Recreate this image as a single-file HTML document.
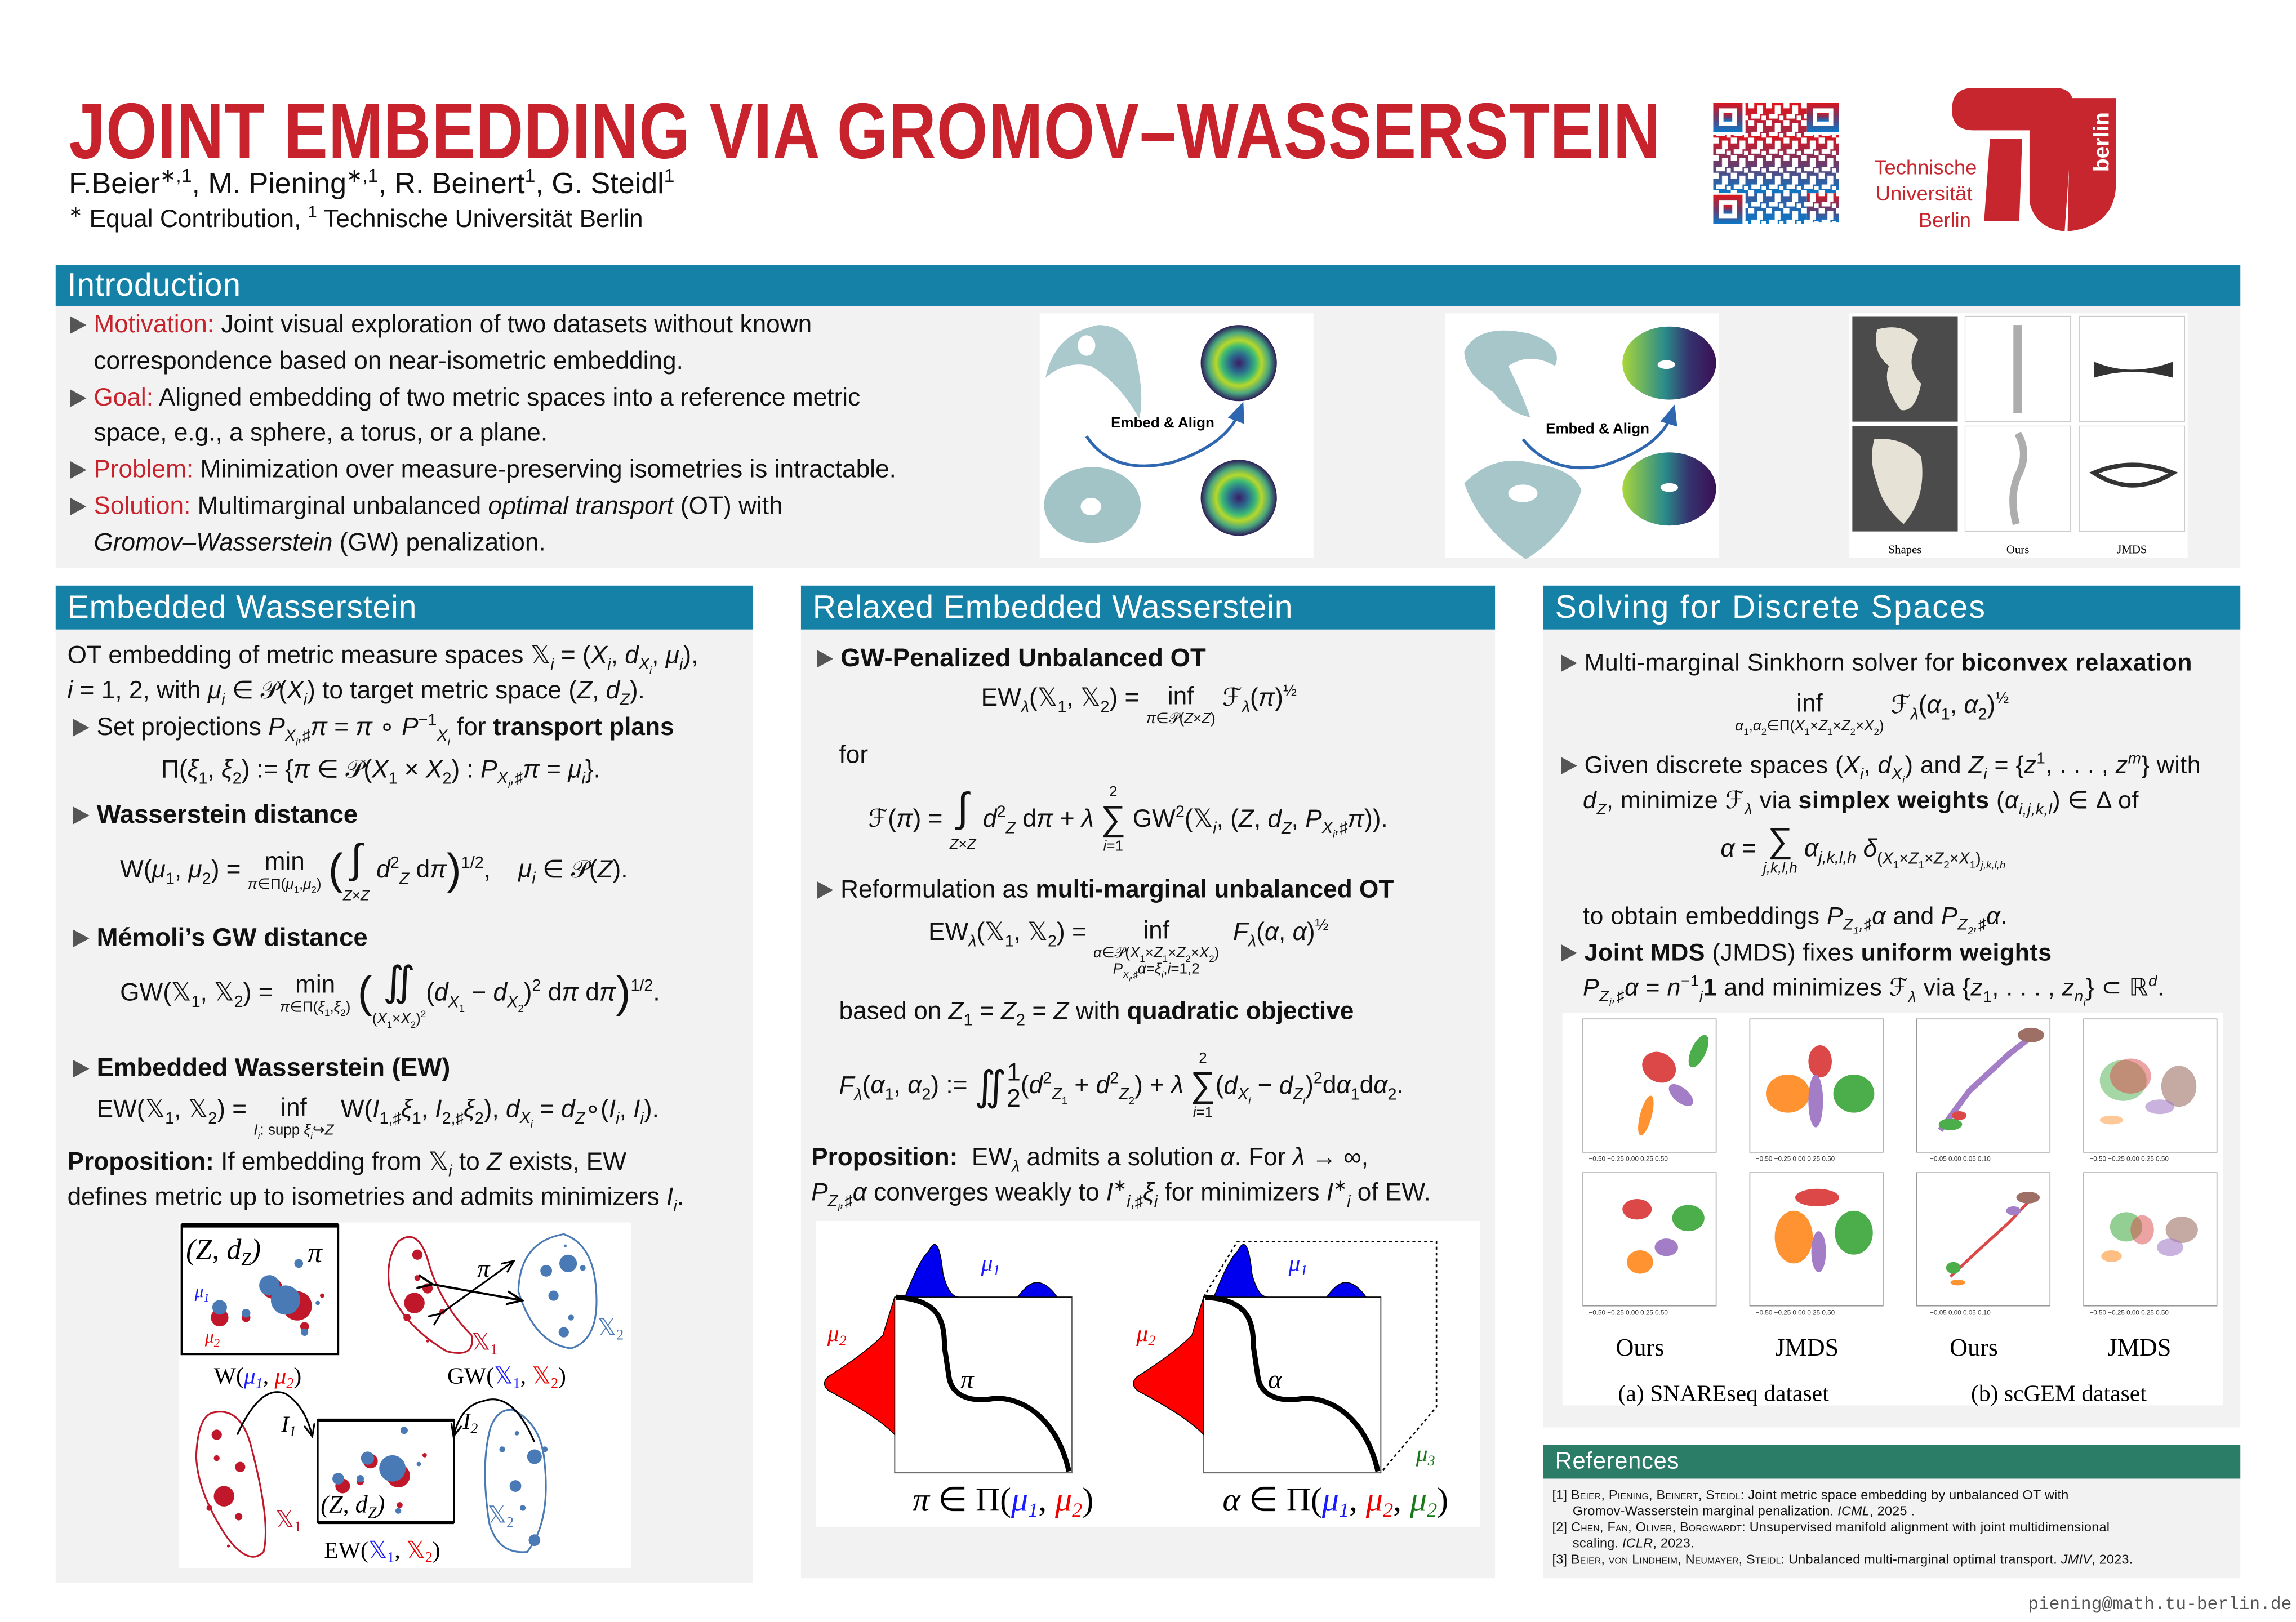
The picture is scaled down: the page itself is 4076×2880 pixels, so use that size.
<!DOCTYPE html>
<html><head><meta charset="utf-8">
<style>
html,body{margin:0;padding:0;background:#fff;}
body{width:4076px;height:2880px;overflow:hidden;position:relative;}
#s{position:absolute;left:0;top:0;width:1568px;height:1108px;transform:scale(2.5995);transform-origin:0 0;font-family:"Liberation Sans","DejaVu Sans",sans-serif;color:#111;}
.a{position:absolute;white-space:nowrap;}
.t{position:absolute;white-space:nowrap;font-size:17px;letter-spacing:0;line-height:20px;}
.hd{position:absolute;background:#1581a7;color:#fff;font-size:22px;line-height:30px;padding-left:8px;box-sizing:border-box;letter-spacing:0.3px;}
.bg{position:absolute;background:#f2f2f2;}
.r{color:#c8232c;}
.bu{display:inline-block;width:0;height:0;border-top:6px solid transparent;border-bottom:6px solid transparent;border-left:11px solid #555;margin-right:5px;vertical-align:-1px;}
i{font-style:italic;}
sub,sup{font-size:65%;line-height:0;}
.op{display:inline-block;text-align:center;vertical-align:middle;line-height:1.1;}
.op small{display:block;font-size:10px;}
</style></head><body><div id="s">

<!-- Title -->
<div class="a" style="left:47px;top:62px;font-size:54px;line-height:56px;font-weight:bold;color:#c8232c;transform:scaleX(0.83);transform-origin:0 0;letter-spacing:0.5px;">JOINT EMBEDDING VIA GROMOV–WASSERSTEIN</div>
<div class="a" style="left:47px;top:114px;font-size:20px;line-height:24px;">F.Beier<sup>∗,1</sup>, M. Piening<sup>∗,1</sup>, R. Beinert<sup>1</sup>, G. Steidl<sup>1</sup></div>
<div class="a" style="left:47px;top:140px;font-size:17px;line-height:20px;"><sup>∗</sup> Equal Contribution, <sup>1</sup> Technische Universität Berlin</div>

<!-- QR -->
<svg class="a" style="left:1170px;top:70px" width="86" height="83" viewBox="0 0 86 83">
<defs><linearGradient id="qg" x1="0" y1="0" x2="0" y2="1"><stop offset="0" stop-color="#e0141b"/><stop offset="0.5" stop-color="#6c3a6a"/><stop offset="1" stop-color="#0a78c8"/></linearGradient>
<pattern id="qp" width="12" height="12" patternUnits="userSpaceOnUse"><rect x="0" y="0" width="4" height="4" fill="#000"/><rect x="6" y="2" width="4" height="6" fill="#000"/><rect x="2" y="8" width="6" height="3" fill="#000"/><rect x="9" y="9" width="3" height="3" fill="#000"/></pattern>
<mask id="qm"><rect width="86" height="83" fill="#fff"/><rect x="0" y="0" width="86" height="83" fill="url(#qp)"/></mask></defs>
<g fill="url(#qg)">
<rect x="22" y="0" width="42" height="83" mask="url(#qm)"/>
<rect x="0" y="22" width="86" height="40" mask="url(#qm)"/>
<path d="M0 0h20v20h-20zM4 4v12h12v-12z" fill-rule="evenodd"/><rect x="7" y="7" width="6" height="6"/>
<path d="M64 0h22v20h-22zM68 4v12h14v-12z" fill-rule="evenodd"/><rect x="71" y="7" width="8" height="6"/>
<path d="M0 63h20v20h-20zM4 67v12h12v-12z" fill-rule="evenodd"/><rect x="7" y="70" width="6" height="6"/>
<rect x="64" y="62" width="22" height="20" mask="url(#qm)"/>
</g></svg>

<!-- TU logo -->
<svg class="a" style="left:1270px;top:55px" width="185" height="110" viewBox="1270 55 185 110">
<path fill="#c8262e" d="M1348,60 L1403,60 Q1416,60 1416,72 L1410,158 Q1390,156 1386,138 L1386,89 L1348,89 Q1333,89 1333,75 Q1333,60 1348,60 Z"/>
<path fill="#c8262e" d="M1359,95 L1381,95 L1379,151 L1355,151 Z"/>
<path fill="#c8262e" d="M1414,67 L1445,67 L1445,128 Q1443,155 1412,158 Z"/>
<text x="1440" y="97" transform="rotate(-90 1440 97)" fill="#fff" font-family="Liberation Sans, sans-serif" font-size="15" font-weight="bold" text-anchor="middle">berlin</text>
<g fill="#c8262e" font-family="Liberation Sans, sans-serif" font-size="14" text-anchor="end"><text x="1350" y="119">Technische</text><text x="1347" y="137">Universität</text><text x="1346" y="155">Berlin</text></g>
</svg>

<!-- Intro -->
<div class="hd" style="left:38px;top:181px;width:1492px;height:28px;line-height:28px;">Introduction</div>
<div class="bg" style="left:38px;top:209px;width:1492px;height:179px;"></div>
<div class="t" style="left:48px;top:212px;"><span class="bu"></span><span class="r">Motivation:</span> Joint visual exploration of two datasets without known</div>
<div class="t" style="left:64px;top:237px;">correspondence based on near-isometric embedding.</div>
<div class="t" style="left:48px;top:262px;"><span class="bu"></span><span class="r">Goal:</span> Aligned embedding of two metric spaces into a reference metric</div>
<div class="t" style="left:64px;top:286px;">space, e.g., a sphere, a torus, or a plane.</div>
<div class="t" style="left:48px;top:311px;"><span class="bu"></span><span class="r">Problem:</span> Minimization over measure-preserving isometries is intractable.</div>
<div class="t" style="left:48px;top:336px;"><span class="bu"></span><span class="r">Solution:</span> Multimarginal unbalanced <i>optimal transport</i> (OT) with</div>
<div class="t" style="left:64px;top:361px;"><i>Gromov–Wasserstein</i> (GW) penalization.</div>

<svg class="a" style="left:0;top:0" width="1568" height="400">
<defs>
<radialGradient id="vir" cx="0.5" cy="0.5" r="0.5"><stop offset="0" stop-color="#3b1c6a"/><stop offset="0.25" stop-color="#2b6f8d"/><stop offset="0.45" stop-color="#3dbb74"/><stop offset="0.6" stop-color="#b8d82a"/><stop offset="0.8" stop-color="#4aa77f"/><stop offset="1" stop-color="#2b1b57"/></radialGradient>
<linearGradient id="vir2" x1="0" y1="0" x2="1" y2="0"><stop offset="0" stop-color="#a9d63a"/><stop offset="0.45" stop-color="#2a8c8a"/><stop offset="0.7" stop-color="#35356f"/><stop offset="1" stop-color="#3a0f55"/></linearGradient>
<marker id="ab" markerWidth="8" markerHeight="8" refX="4" refY="4" orient="auto"><path d="M0,1 L7,4 L0,7z" fill="#2f66b0"/></marker>
</defs>
<rect x="710" y="214" width="187" height="167" fill="#fff"/>
<path d="M714,258 Q720,228 750,222 Q768,222 775,240 Q782,270 778,286 Q765,262 745,250 Q728,246 714,258Z" fill="#a9c9cc"/>
<ellipse cx="742" cy="236" rx="6" ry="7" fill="#fff"/>
<circle cx="846" cy="248" r="26" fill="url(#vir)"/>
<ellipse cx="746" cy="345" rx="33" ry="26" fill="#a2c4c7"/><ellipse cx="745" cy="346" rx="7" ry="6" fill="#fff"/>
<circle cx="846" cy="340" r="26" fill="url(#vir)"/>
<path d="M742,298 Q760,325 800,316 Q838,304 847,280" stroke="#2f66b0" stroke-width="2" fill="none" marker-end="url(#ab)"/>
<text x="794" y="292" font-family="Liberation Sans, sans-serif" font-size="10" font-weight="bold" text-anchor="middle">Embed &amp; Align</text>
<rect x="987" y="214" width="187" height="167" fill="#fff"/>
<path d="M1000,240 Q1010,220 1045,228 Q1068,236 1062,250 Q1045,240 1030,250 Q1040,270 1045,285 Q1030,282 1020,268 Q1000,255 1000,240Z" fill="#a6c6c9"/>
<ellipse cx="1140" cy="248" rx="32" ry="25" fill="url(#vir2)"/><ellipse cx="1138" cy="249" rx="6" ry="3" fill="#fff"/>
<path d="M1000,330 Q1020,310 1045,316 Q1075,320 1080,335 Q1070,365 1042,382 Q1010,360 1000,330Z" fill="#a6c6c9"/><ellipse cx="1040" cy="337" rx="10" ry="6" fill="#fff"/>
<ellipse cx="1140" cy="334" rx="32" ry="25" fill="url(#vir2)"/><ellipse cx="1140" cy="333" rx="6" ry="3" fill="#fff"/>
<path d="M1040,300 Q1060,325 1095,318 Q1135,305 1142,282" stroke="#2f66b0" stroke-width="2" fill="none" marker-end="url(#ab)"/>
<text x="1091" y="296" font-family="Liberation Sans, sans-serif" font-size="10" font-weight="bold" text-anchor="middle">Embed &amp; Align</text>
<rect x="1263" y="214" width="231" height="167" fill="#fff"/>
<rect x="1265" y="216" width="72" height="72" fill="#4b4b4b"/><path d="M1282,225 Q1300,220 1310,232 Q1300,250 1312,262 Q1308,282 1298,280 Q1285,262 1290,250 Q1278,240 1282,225Z" fill="#e6e2d6"/>
<rect x="1265" y="291" width="72" height="72" fill="#4b4b4b"/><path d="M1280,300 Q1300,298 1312,312 Q1316,340 1300,358 Q1285,345 1282,330 Q1276,315 1280,300Z" fill="#e6e2d6"/>
<rect x="1342" y="216" width="72" height="72" fill="#fff" stroke="#ccc" stroke-width="0.5"/><rect x="1375" y="222" width="6" height="60" fill="#777" opacity="0.6"/>
<rect x="1342" y="291" width="72" height="72" fill="#fff" stroke="#ccc" stroke-width="0.5"/><path d="M1378,296 Q1386,310 1378,325 Q1372,340 1377,358" stroke="#777" stroke-width="5" fill="none" opacity="0.6"/>
<rect x="1420" y="216" width="72" height="72" fill="#fff" stroke="#ccc" stroke-width="0.5"/><path d="M1430,247 Q1456,258 1484,247 L1484,258 Q1456,250 1430,258Z" fill="#333"/>
<rect x="1420" y="291" width="72" height="72" fill="#fff" stroke="#ccc" stroke-width="0.5"/><path d="M1430,323 Q1456,312 1484,323 Q1456,340 1430,323Z" fill="none" stroke="#333" stroke-width="3"/>
<g font-family="Liberation Serif, serif" font-size="8" text-anchor="middle"><text x="1301" y="378">Shapes</text><text x="1378" y="378">Ours</text><text x="1456" y="378">JMDS</text></g>
</svg>

<!-- Column 1 -->
<div class="hd" style="left:38px;top:400px;width:476px;height:30px;">Embedded Wasserstein</div>
<div class="bg" style="left:38px;top:430px;width:476px;height:651px;"></div>
<div class="t" style="left:46px;top:438px;">OT embedding of metric measure spaces 𝕏<sub><i>i</i></sub> = (<i>X<sub>i</sub></i>, <i>d<sub>X<sub>i</sub></sub></i>, <i>μ<sub>i</sub></i>),</div>
<div class="t" style="left:46px;top:462px;"><i>i</i> = 1, 2, with <i>μ<sub>i</sub></i> ∈ 𝒫(<i>X<sub>i</sub></i>) to target metric space (<i>Z</i>, <i>d<sub>Z</sub></i>).</div>
<div class="t" style="left:50px;top:487px;"><span class="bu"></span>Set projections <i>P<sub>X<sub>i</sub>,♯</sub>π</i> = <i>π</i> ∘ <i>P</i><sup>−1</sup><sub><i>X<sub>i</sub></i></sub> for <b>transport plans</b></div>
<div class="t" style="left:110px;top:516px;">Π(<i>ξ</i><sub>1</sub>, <i>ξ</i><sub>2</sub>) := {<i>π</i> ∈ 𝒫(<i>X</i><sub>1</sub> × <i>X</i><sub>2</sub>) : <i>P<sub>X<sub>i</sub>,♯</sub>π</i> = <i>μ<sub>i</sub></i>}.</div>
<div class="t" style="left:50px;top:546px;font-size:17.5px;"><span class="bu"></span><b>Wasserstein distance</b></div>
<div class="t" style="left:82px;top:572px;line-height:22px;">W(<i>μ</i><sub>1</sub>, <i>μ</i><sub>2</sub>) = <span class="op">min<small><i>π</i>∈Π(<i>μ</i><sub>1</sub>,<i>μ</i><sub>2</sub>)</small></span> <span style="font-size:30px;vertical-align:middle">(</span><span class="op"><span style="font-size:28px">∫</span><small style="margin-top:4px"><i>Z</i>×<i>Z</i></small></span> <i>d</i><sup>2</sup><sub><i>Z</i></sub> d<i>π</i><span style="font-size:30px;vertical-align:middle">)</span><sup>1/2</sup>, &nbsp;&nbsp; <i>μ<sub>i</sub></i> ∈ 𝒫(<i>Z</i>).</div>
<div class="t" style="left:50px;top:630px;font-size:17.5px;"><span class="bu"></span><b>Mémoli’s GW distance</b></div>
<div class="t" style="left:82px;top:656px;line-height:22px;">GW(𝕏<sub>1</sub>, 𝕏<sub>2</sub>) = <span class="op">min<small><i>π</i>∈Π(<i>ξ</i><sub>1</sub>,<i>ξ</i><sub>2</sub>)</small></span> <span style="font-size:30px;vertical-align:middle">(</span><span class="op"><span style="font-size:28px">∬</span><small style="margin-top:4px">(<i>X</i><sub>1</sub>×<i>X</i><sub>2</sub>)<sup>2</sup></small></span>(<i>d</i><sub><i>X</i><sub>1</sub></sub> − <i>d</i><sub><i>X</i><sub>2</sub></sub>)<sup>2</sup> d<i>π</i> d<i>π</i><span style="font-size:30px;vertical-align:middle">)</span><sup>1/2</sup>.</div>
<div class="t" style="left:50px;top:719px;font-size:17.5px;"><span class="bu"></span><b>Embedded Wasserstein (EW)</b></div>
<div class="t" style="left:66px;top:748px;line-height:20px;">EW(𝕏<sub>1</sub>, 𝕏<sub>2</sub>) = <span class="op" style="vertical-align:top">inf<small><i>I<sub>i</sub></i>: supp <i>ξ<sub>i</sub></i>↪<i>Z</i></small></span> W(<i>I</i><sub>1,♯</sub><i>ξ</i><sub>1</sub>, <i>I</i><sub>2,♯</sub><i>ξ</i><sub>2</sub>), <i>d<sub>X<sub>i</sub></sub></i> = <i>d<sub>Z</sub></i>∘(<i>I<sub>i</sub></i>, <i>I<sub>i</sub></i>).</div>
<div class="t" style="left:46px;top:784px;"><b>Proposition:</b> If embedding from 𝕏<sub><i>i</i></sub> to <i>Z</i> exists, EW</div>
<div class="t" style="left:46px;top:808px;">defines metric up to isometries and admits minimizers <i>I<sub>i</sub></i>.</div>

<svg class="a" style="left:0;top:0" width="1568" height="1108">
<defs><marker id="ak" markerWidth="8" markerHeight="8" refX="6" refY="4" orient="auto"><path d="M0,1 L7,4 L0,7" fill="none" stroke="#000" stroke-width="1"/></marker></defs>
<rect x="122" y="835" width="309" height="236" fill="#fff"/>
<rect x="124" y="837" width="107" height="88" fill="none" stroke="#000" stroke-width="1.3"/><line x1="124" y1="837" x2="231" y2="837" stroke="#000" stroke-width="3"/>
<text x="127" y="860" font-family="Liberation Serif, serif" font-size="20" font-style="italic">(Z, d<tspan font-size="12" dy="4">Z</tspan><tspan dy="-4">)</tspan></text>
<text x="210" y="862" font-family="Liberation Serif, serif" font-size="20" font-style="italic">π</text>
<g fill="#c0182a"><circle cx="186" cy="880" r="7"/><circle cx="203" cy="892" r="10"/><circle cx="150" cy="900" r="6"/><circle cx="168" cy="900" r="3"/><circle cx="208" cy="906" r="3"/><circle cx="220" cy="885" r="1.5"/></g>
<g fill="#4a7ab5"><circle cx="184" cy="878" r="7"/><circle cx="195" cy="888" r="10"/><circle cx="150" cy="893" r="5"/><circle cx="168" cy="897" r="3"/><circle cx="208" cy="910" r="2.5"/><circle cx="204" cy="863" r="3"/><circle cx="217" cy="890" r="1.5"/></g>
<text x="133" y="886" fill="#1a1aff" font-family="Liberation Serif, serif" font-size="12" font-style="italic">μ<tspan font-size="8" dy="3">1</tspan></text>
<text x="140" y="917" fill="#e00" font-family="Liberation Serif, serif" font-size="12" font-style="italic">μ<tspan font-size="8" dy="3">2</tspan></text>
<path d="M272,848 Q285,838 292,860 Q300,890 322,912 Q325,928 305,923 Q275,905 266,880 Q263,860 272,848Z" fill="none" stroke="#c0182a" stroke-width="1.2"/>
<g fill="#c0182a"><circle cx="285" cy="857" r="3.5"/><circle cx="285" cy="873" r="2"/><circle cx="283" cy="890" r="7"/><circle cx="292" cy="880" r="3.5"/><circle cx="278" cy="900" r="2.5"/><circle cx="302" cy="896" r="2"/><circle cx="292" cy="916" r="1"/></g>
<path d="M385,843 Q405,850 407,880 Q410,915 390,921 Q365,918 354,882 Q355,848 385,843Z" fill="none" stroke="#4a7ab5" stroke-width="1.2"/>
<g fill="#4a7ab5"><circle cx="373" cy="868" r="4"/><circle cx="388" cy="863" r="6"/><circle cx="398" cy="866" r="2"/><circle cx="378" cy="885" r="3.5"/><circle cx="390" cy="900" r="2"/><circle cx="385" cy="910" r="3.5"/><circle cx="386" cy="851" r="1"/></g>
<line x1="294" y1="877" x2="355" y2="888" stroke="#000" stroke-width="1.5" marker-end="url(#ak)" marker-start="url(#ak)"/>
<line x1="300" y1="898" x2="350" y2="862" stroke="#000" stroke-width="1.2" marker-end="url(#ak)" marker-start="url(#ak)"/>
<text x="326" y="872" font-family="Liberation Serif, serif" font-size="17" font-style="italic">π</text>
<text x="322" y="922" fill="#c0182a" font-family="Liberation Serif, serif" font-size="16">𝕏<tspan font-size="10" dy="3">1</tspan></text>
<text x="408" y="912" fill="#4a7ab5" font-family="Liberation Serif, serif" font-size="16">𝕏<tspan font-size="10" dy="3">2</tspan></text>
<g font-family="Liberation Serif, serif" font-size="16" text-anchor="middle"><text x="176" y="945">W(<tspan fill="#1a1aff" font-style="italic">μ<tspan font-size="10" dy="3">1</tspan></tspan><tspan dy="-3">, </tspan><tspan fill="#e00" font-style="italic">μ<tspan font-size="10" dy="3">2</tspan></tspan><tspan dy="-3">)</tspan></text>
<text x="346" y="945">GW(<tspan fill="#1a1aff">𝕏<tspan font-size="10" dy="3">1</tspan></tspan><tspan dy="-3">, </tspan><tspan fill="#e00">𝕏<tspan font-size="10" dy="3">2</tspan></tspan><tspan dy="-3">)</tspan></text>
<text x="261" y="1064">EW(<tspan fill="#1a1aff">𝕏<tspan font-size="10" dy="3">1</tspan></tspan><tspan dy="-3">, </tspan><tspan fill="#e00">𝕏<tspan font-size="10" dy="3">2</tspan></tspan><tspan dy="-3">)</tspan></text></g>
<path d="M145,965 Q165,960 172,990 Q185,1040 180,1060 Q170,1070 155,1050 Q135,1020 134,995 Q135,968 145,965Z" fill="none" stroke="#c0182a" stroke-width="1.2"/>
<g fill="#c0182a"><circle cx="148" cy="980" r="3.5"/><circle cx="148" cy="996" r="2"/><circle cx="164" cy="1002" r="3.5"/><circle cx="153" cy="1022" r="7"/><circle cx="163" cy="1036" r="2.5"/><circle cx="143" cy="1030" r="2"/><circle cx="156" cy="1056" r="1"/></g>
<rect x="217" y="970" width="93" height="70" fill="none" stroke="#000" stroke-width="1.2"/><line x1="217" y1="970" x2="310" y2="970" stroke="#000" stroke-width="2"/><line x1="217" y1="1040" x2="310" y2="1040" stroke="#000" stroke-width="2"/>
<g fill="#c0182a"><circle cx="253" cy="998" r="5"/><circle cx="272" cy="1008" r="8"/><circle cx="234" cy="1015" r="5"/><circle cx="246" cy="1012" r="2.5"/><circle cx="290" cy="994" r="1.5"/><circle cx="273" cy="1028" r="2"/></g>
<g fill="#4a7ab5"><circle cx="251" cy="996" r="4.5"/><circle cx="268" cy="1003" r="9"/><circle cx="231" cy="1010" r="4"/><circle cx="246" cy="1010" r="2.5"/><circle cx="276" cy="977" r="2.5"/><circle cx="286" cy="1000" r="1.5"/><circle cx="272" cy="1032" r="2"/></g>
<text x="219" y="1033" font-family="Liberation Serif, serif" font-size="17" font-style="italic">(Z, d<tspan font-size="11" dy="4">Z</tspan><tspan dy="-4">)</tspan></text>
<path d="M350,963 Q370,972 372,1000 Q376,1040 360,1060 Q340,1062 334,1040 Q328,1000 335,975 Q340,962 350,963Z" fill="none" stroke="#4a7ab5" stroke-width="1.2"/>
<g fill="#4a7ab5"><circle cx="353" cy="979" r="1.5"/><circle cx="343" cy="990" r="2"/><circle cx="365" cy="995" r="5"/><circle cx="372" cy="990" r="2"/><circle cx="352" cy="1015" r="4"/><circle cx="357" cy="1030" r="2"/><circle cx="365" cy="1052" r="4"/></g>
<path d="M162,980 Q178,945 195,952 Q208,960 213,980" fill="none" stroke="#000" stroke-width="1.2" marker-end="url(#ak)"/>
<path d="M365,985 Q350,950 330,957 Q315,960 310,980" fill="none" stroke="#000" stroke-width="1.2" marker-end="url(#ak)"/>
<text x="192" y="978" font-family="Liberation Serif, serif" font-size="16" font-style="italic">I<tspan font-size="10" dy="3">1</tspan></text>
<text x="316" y="976" font-family="Liberation Serif, serif" font-size="16" font-style="italic">I<tspan font-size="10" dy="3">2</tspan></text>
<text x="188" y="1043" fill="#c0182a" font-family="Liberation Serif, serif" font-size="16">𝕏<tspan font-size="10" dy="3">1</tspan></text>
<text x="333" y="1040" fill="#4a7ab5" font-family="Liberation Serif, serif" font-size="16">𝕏<tspan font-size="10" dy="3">2</tspan></text>
</svg>

<!-- Column 2 -->
<div class="hd" style="left:547px;top:400px;width:474px;height:30px;">Relaxed Embedded Wasserstein</div>
<div class="bg" style="left:547px;top:430px;width:474px;height:648px;"></div>
<div class="t" style="left:558px;top:439px;font-size:17.5px;"><span class="bu"></span><b>GW-Penalized Unbalanced OT</b></div>
<div class="t" style="left:670px;top:467px;line-height:20px;">EW<sub><i>λ</i></sub>(𝕏<sub>1</sub>, 𝕏<sub>2</sub>) = <span class="op" style="vertical-align:top">inf<small><i>π</i>∈𝒫(<i>Z</i>×<i>Z</i>)</small></span> ℱ<sub><i>λ</i></sub>(<i>π</i>)<sup>½</sup></div>
<div class="t" style="left:573px;top:506px;">for</div>
<div class="t" style="left:593px;top:536px;line-height:22px;">ℱ(<i>π</i>) = <span class="op"><span style="font-size:28px">∫</span><small style="margin-top:4px"><i>Z</i>×<i>Z</i></small></span> <i>d</i><sup>2</sup><sub><i>Z</i></sub> d<i>π</i> + <i>λ</i> <span class="op"><small>2</small><span style="font-size:24px">∑</span><small><i>i</i>=1</small></span> GW<sup>2</sup>(𝕏<sub><i>i</i></sub>, (<i>Z</i>, <i>d<sub>Z</sub></i>, <i>P<sub>X<sub>i</sub>,♯</sub>π</i>)).</div>
<div class="t" style="left:558px;top:598px;"><span class="bu"></span>Reformulation as <b>multi-marginal unbalanced OT</b></div>
<div class="t" style="left:634px;top:627px;line-height:20px;">EW<sub><i>λ</i></sub>(𝕏<sub>1</sub>, 𝕏<sub>2</sub>) = <span class="op" style="vertical-align:top">inf<small><i>α</i>∈𝒫(<i>X</i><sub>1</sub>×<i>Z</i><sub>1</sub>×<i>Z</i><sub>2</sub>×<i>X</i><sub>2</sub>)<br><i>P<sub>X<sub>i</sub>,♯</sub>α</i>=<i>ξ<sub>i</sub></i>,<i>i</i>=1,2</small></span> &nbsp;<i>F<sub>λ</sub></i>(<i>α</i>, <i>α</i>)<sup>½</sup></div>
<div class="t" style="left:573px;top:681px;">based on <i>Z</i><sub>1</sub> = <i>Z</i><sub>2</sub> = <i>Z</i> with <b>quadratic objective</b></div>
<div class="t" style="left:573px;top:718px;line-height:22px;"><i>F<sub>λ</sub></i>(<i>α</i><sub>1</sub>, <i>α</i><sub>2</sub>) := <span style="font-size:28px;vertical-align:middle">∬</span><span class="op">1<br>2</span>(<i>d</i><sup>2</sup><sub><i>Z</i><sub>1</sub></sub> + <i>d</i><sup>2</sup><sub><i>Z</i><sub>2</sub></sub>) + <i>λ</i> <span class="op"><small>2</small><span style="font-size:24px">∑</span><small><i>i</i>=1</small></span>(<i>d<sub>X<sub>i</sub></sub></i> − <i>d<sub>Z<sub>i</sub></sub></i>)<sup>2</sup>d<i>α</i><sub>1</sub>d<i>α</i><sub>2</sub>.</div>
<div class="t" style="left:554px;top:781px;"><b>Proposition:</b> &nbsp;EW<sub><i>λ</i></sub> admits a solution <i>α</i>. For <i>λ</i> → ∞,</div>
<div class="t" style="left:554px;top:805px;"><i>P<sub>Z<sub>i</sub>,♯</sub>α</i> converges weakly to <i>I</i><sup>∗</sup><sub><i>i</i>,♯</sub><i>ξ<sub>i</sub></i> for minimizers <i>I</i><sup>∗</sup><sub><i>i</i></sub> of EW.</div>

<svg class="a" style="left:0;top:0" width="1568" height="1108">
<rect x="557" y="834" width="454" height="209" fill="#fff"/>
<rect x="611" y="886" width="121" height="120" fill="none" stroke="#666" stroke-width="0.8"/>
<path d="M611,886 L618,886 Q628,860 634,855 Q641,840 644,870 Q648,886 655,886 L695,886 Q702,876 708,876 Q715,876 722,886 L732,886 Z" fill="#0000ee" stroke="#000" stroke-width="0.6"/>
<path d="M611,886 Q605,905 603,912 Q590,925 566,940 Q560,945 566,950 Q600,968 611,980 Z" fill="#f00" stroke="#000" stroke-width="0.6"/>
<path d="M612,886 C640,888 645,900 645,920 L648,940 C650,955 665,958 680,955 C700,955 722,970 730,1005" fill="none" stroke="#000" stroke-width="3.5"/>
<text x="670" y="868" fill="#1a1aff" font-family="Liberation Serif, serif" font-size="16" font-style="italic">μ<tspan font-size="10" dy="3">1</tspan></text>
<text x="565" y="916" fill="#e00" font-family="Liberation Serif, serif" font-size="16" font-style="italic">μ<tspan font-size="10" dy="3">2</tspan></text>
<text x="656" y="948" font-family="Liberation Serif, serif" font-size="18" font-style="italic">π</text>
<rect x="822" y="886" width="121" height="120" fill="none" stroke="#666" stroke-width="0.8"/>
<path d="M822,886 L829,886 Q839,860 845,855 Q852,840 855,870 Q859,886 866,886 L906,886 Q913,876 919,876 Q926,876 933,886 L943,886 Z" fill="#0000ee" stroke="#000" stroke-width="0.6"/>
<path d="M822,886 Q816,905 814,912 Q801,925 777,940 Q771,945 777,950 Q811,968 822,980 Z" fill="#f00" stroke="#000" stroke-width="0.6"/>
<path d="M823,886 C851,888 856,900 856,920 L859,940 C861,955 876,958 891,955 C911,955 933,970 941,1005" fill="none" stroke="#000" stroke-width="3.5"/>
<path d="M822,886 L845,848 L981,848 L981,961 L943,1006" fill="none" stroke="#000" stroke-width="1" stroke-dasharray="2,2"/>
<text x="880" y="868" fill="#1a1aff" font-family="Liberation Serif, serif" font-size="16" font-style="italic">μ<tspan font-size="10" dy="3">1</tspan></text>
<text x="776" y="916" fill="#e00" font-family="Liberation Serif, serif" font-size="16" font-style="italic">μ<tspan font-size="10" dy="3">2</tspan></text>
<text x="866" y="948" font-family="Liberation Serif, serif" font-size="18" font-style="italic">α</text>
<text x="967" y="998" fill="#1a7a1a" font-family="Liberation Serif, serif" font-size="16" font-style="italic">μ<tspan font-size="10" dy="3">3</tspan></text>
<g font-family="Liberation Serif, serif" font-size="23" text-anchor="middle">
<text x="685" y="1032"><tspan font-style="italic">π</tspan> ∈ Π(<tspan fill="#1a1aff" font-style="italic">μ<tspan font-size="14" dy="4">1</tspan></tspan><tspan dy="-4">, </tspan><tspan fill="#e00" font-style="italic">μ<tspan font-size="14" dy="4">2</tspan></tspan><tspan dy="-4">)</tspan></text>
<text x="912" y="1032"><tspan font-style="italic">α</tspan> ∈ Π(<tspan fill="#1a1aff" font-style="italic">μ<tspan font-size="14" dy="4">1</tspan></tspan><tspan dy="-4">, </tspan><tspan fill="#e00" font-style="italic">μ<tspan font-size="14" dy="4">2</tspan></tspan><tspan dy="-4">, </tspan><tspan fill="#1a7a1a" font-style="italic">μ<tspan font-size="14" dy="4">2</tspan></tspan><tspan dy="-4">)</tspan></text></g>
</svg>

<!-- Column 3 -->
<div class="hd" style="left:1054px;top:400px;width:476px;height:30px;letter-spacing:0.9px;">Solving for Discrete Spaces</div>
<div class="bg" style="left:1054px;top:430px;width:476px;height:545px;"></div>
<div class="t" style="left:1066px;top:443px;font-size:16.5px;letter-spacing:0.2px;"><span class="bu"></span>Multi-marginal Sinkhorn solver for <b>biconvex relaxation</b></div>
<div class="t" style="left:1185px;top:472px;line-height:19px;"><span class="op" style="vertical-align:top">inf<small><i>α</i><sub>1</sub>,<i>α</i><sub>2</sub>∈Π(<i>X</i><sub>1</sub>×<i>Z</i><sub>1</sub>×<i>Z</i><sub>2</sub>×<i>X</i><sub>2</sub>)</small></span> ℱ<sub><i>λ</i></sub>(<i>α</i><sub>1</sub>, <i>α</i><sub>2</sub>)<sup>½</sup></div>
<div class="t" style="left:1066px;top:513px;font-size:16.5px;letter-spacing:0.2px;"><span class="bu"></span>Given discrete spaces (<i>X<sub>i</sub></i>, <i>d<sub>X<sub>i</sub></sub></i>) and <i>Z<sub>i</sub></i> = {<i>z</i><sup>1</sup>, . . . , <i>z<sup>m</sup></i>} with</div>
<div class="t" style="left:1081px;top:537px;font-size:16.5px;letter-spacing:0.2px;"><i>d<sub>Z</sub></i>, minimize ℱ<sub><i>λ</i></sub> via <b>simplex weights</b> (<i>α<sub>i,j,k,l</sub></i>) ∈ Δ of</div>
<div class="t" style="left:1175px;top:562px;line-height:20px;"><i>α</i> = <span class="op"><span style="font-size:24px">∑</span><small><i>j,k,l,h</i></small></span> <i>α<sub>j,k,l,h</sub></i> <i>δ</i><sub>(<i>X</i><sub>1</sub>×<i>Z</i><sub>1</sub>×<i>Z</i><sub>2</sub>×<i>X</i><sub>1</sub>)<sub><i>j,k,l,h</i></sub></sub></div>
<div class="t" style="left:1081px;top:616px;font-size:16.5px;letter-spacing:0.2px;">to obtain embeddings <i>P<sub>Z<sub>1</sub>,♯</sub>α</i> and <i>P<sub>Z<sub>2</sub>,♯</sub>α</i>.</div>
<div class="t" style="left:1066px;top:641px;font-size:16.5px;letter-spacing:0.2px;"><span class="bu"></span><b>Joint MDS</b> (JMDS) fixes <b>uniform weights</b></div>
<div class="t" style="left:1081px;top:665px;font-size:16.5px;letter-spacing:0.2px;"><i>P<sub>Z<sub>i</sub>,♯</sub>α</i> = <i>n</i><sup>−1</sup><sub><i>i</i></sub><b>1</b> and minimizes ℱ<sub><i>λ</i></sub> via {<i>z</i><sub>1</sub>, . . . , <i>z<sub>n<sub>i</sub></sub></i>} ⊂ ℝ<sup><i>d</i></sup>.</div>

<svg class="a" style="left:0;top:0" width="1568" height="1108">
<rect x="1067" y="692" width="451" height="268" fill="#fff"/>
<g fill="none" stroke="#999" stroke-width="0.6">
<rect x="1081" y="696" width="91" height="91"/><rect x="1195" y="696" width="91" height="91"/><rect x="1309" y="696" width="91" height="91"/><rect x="1423" y="696" width="91" height="91"/>
<rect x="1081" y="801" width="91" height="91"/><rect x="1195" y="801" width="91" height="91"/><rect x="1309" y="801" width="91" height="91"/><rect x="1423" y="801" width="91" height="91"/>
</g>
<g font-family="Liberation Sans, sans-serif" font-size="4.5" fill="#333">
<text x="1085" y="793">−0.50 −0.25 0.00 0.25 0.50</text><text x="1199" y="793">−0.50 −0.25 0.00 0.25 0.50</text><text x="1318" y="793">−0.05 0.00 0.05 0.10</text><text x="1427" y="793">−0.50 −0.25 0.00 0.25 0.50</text>
<text x="1085" y="898">−0.50 −0.25 0.00 0.25 0.50</text><text x="1199" y="898">−0.50 −0.25 0.00 0.25 0.50</text><text x="1318" y="898">−0.05 0.00 0.05 0.10</text><text x="1427" y="898">−0.50 −0.25 0.00 0.25 0.50</text>
</g>
<g opacity="0.85">
<ellipse cx="1133" cy="729" rx="12" ry="10" fill="#d62728" transform="rotate(30 1133 729)"/><ellipse cx="1160" cy="718" rx="5" ry="12" fill="#2ca02c" transform="rotate(25 1160 718)"/><ellipse cx="1148" cy="748" rx="10" ry="5" fill="#9467bd" transform="rotate(40 1148 748)"/><ellipse cx="1124" cy="762" rx="4" ry="14" fill="#ff7f0e" transform="rotate(15 1124 762)"/>
<ellipse cx="1221" cy="747" rx="15" ry="13" fill="#ff7f0e"/><ellipse cx="1266" cy="747" rx="14" ry="13" fill="#2ca02c"/><ellipse cx="1243" cy="725" rx="8" ry="11" fill="#d62728"/><ellipse cx="1240" cy="752" rx="5" ry="18" fill="#9467bd"/>
<path d="M1325,772 L1345,745 L1372,720 L1390,706" stroke="#9467bd" stroke-width="4" fill="none"/><ellipse cx="1387" cy="707" rx="9" ry="5" fill="#8c564b"/><ellipse cx="1332" cy="768" rx="8" ry="4" fill="#2ca02c"/><ellipse cx="1338" cy="762" rx="5" ry="3" fill="#d62728"/>
<ellipse cx="1450" cy="738" rx="16" ry="14" fill="#2ca02c" opacity="0.5"/><ellipse cx="1455" cy="735" rx="14" ry="12" fill="#d62728" opacity="0.5"/><ellipse cx="1488" cy="742" rx="12" ry="14" fill="#8c564b" opacity="0.6"/><ellipse cx="1475" cy="756" rx="10" ry="5" fill="#9467bd" opacity="0.6"/><ellipse cx="1442" cy="765" rx="8" ry="3" fill="#ff7f0e" opacity="0.5"/>
<ellipse cx="1118" cy="826" rx="10" ry="7" fill="#d62728"/><ellipse cx="1153" cy="832" rx="11" ry="9" fill="#2ca02c"/><ellipse cx="1120" cy="862" rx="9" ry="8" fill="#ff7f0e"/><ellipse cx="1138" cy="852" rx="8" ry="6" fill="#9467bd"/>
<ellipse cx="1225" cy="845" rx="13" ry="18" fill="#ff7f0e"/><ellipse cx="1241" cy="818" rx="15" ry="6" fill="#d62728"/><ellipse cx="1266" cy="842" rx="13" ry="15" fill="#2ca02c"/><ellipse cx="1242" cy="855" rx="5" ry="14" fill="#9467bd"/>
<path d="M1332,872 L1350,855 L1372,835 L1388,818" stroke="#d62728" stroke-width="2" fill="none"/><ellipse cx="1385" cy="818" rx="8" ry="4" fill="#8c564b"/><ellipse cx="1334" cy="866" rx="5" ry="4" fill="#2ca02c"/><ellipse cx="1337" cy="876" rx="5" ry="2" fill="#ff7f0e"/><ellipse cx="1375" cy="827" rx="5" ry="3" fill="#9467bd"/>
<ellipse cx="1452" cy="838" rx="11" ry="10" fill="#2ca02c" opacity="0.6"/><ellipse cx="1463" cy="840" rx="8" ry="10" fill="#d62728" opacity="0.5"/><ellipse cx="1490" cy="840" rx="11" ry="9" fill="#8c564b" opacity="0.6"/><ellipse cx="1482" cy="852" rx="9" ry="6" fill="#9467bd" opacity="0.6"/><ellipse cx="1442" cy="858" rx="7" ry="4" fill="#ff7f0e" opacity="0.6"/>
</g>
<g font-family="Liberation Serif, serif" font-size="17" text-anchor="middle"><text x="1120" y="926">Ours</text><text x="1234" y="926">JMDS</text><text x="1348" y="926">Ours</text><text x="1461" y="926">JMDS</text></g>
<g font-family="Liberation Serif, serif" font-size="16" text-anchor="middle"><text x="1177" y="957">(a) SNAREseq dataset</text><text x="1406" y="957">(b) scGEM dataset</text></g>
</svg>

<!-- References -->
<div class="a" style="left:1054px;top:987px;width:476px;height:23px;background:#2b7d68;color:#fff;font-size:16px;line-height:23px;padding-left:8px;box-sizing:border-box;letter-spacing:0.3px;">References</div>
<div class="bg" style="left:1054px;top:1010px;width:476px;height:68px;"></div>
<div class="a" style="left:1060px;top:1016px;font-size:9px;line-height:10.5px;letter-spacing:0.1px;">
<div>[1] <span style="font-variant:small-caps">Beier, Piening, Beinert, Steidl:</span> Joint metric space embedding by unbalanced OT with</div>
<div style="padding-left:14px">Gromov-Wasserstein marginal penalization. <i>ICML</i>, 2025 .</div>
<div style="margin-top:1px">[2] <span style="font-variant:small-caps">Chen, Fan, Oliver, Borgwardt:</span> Unsupervised manifold alignment with joint multidimensional</div>
<div style="padding-left:14px">scaling. <i>ICLR</i>, 2023.</div>
<div style="margin-top:1px">[3] <span style="font-variant:small-caps">Beier, von Lindheim, Neumayer, Steidl:</span> Unbalanced multi-marginal optimal transport. <i>JMIV</i>, 2023.</div>
</div>
<div class="a" style="left:1385px;top:1089px;font-family:'Liberation Mono',monospace;font-size:12px;color:#555;">piening@math.tu-berlin.de</div>

</div></body></html>
